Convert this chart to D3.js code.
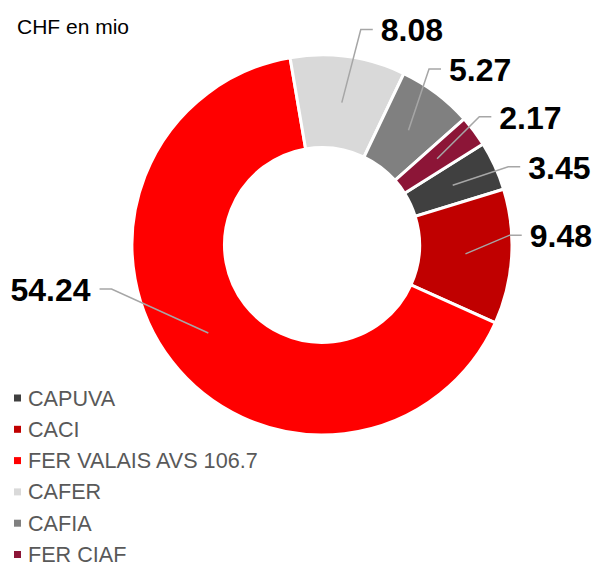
<!DOCTYPE html>
<html>
<head>
<meta charset="utf-8">
<script src="https://cdn.jsdelivr.net/npm/d3@7"></script>
<style>
  body { margin: 0; background: #fff; }
  svg { display: block; font-family: "Liberation Sans", Arial, sans-serif; }
</style>
</head>
<body>
<script>
// donut: CHF en mio per fund

var categories = ['CAPUVA', 'CACI', 'FER VALAIS AVS 106.7', 'CAFER', 'CAFIA', 'FER CIAF'];
var values = [3.45, 9.48, 54.24, 8.08, 5.27, 2.17];
var colors = ['#404040', '#C00000', '#FF0000', '#D9D9D9', '#808080', '#8C1537'];

// where each leader line bends (angle in degrees, radius), like the manual labels
var labelBend = [[67.2, 202], [87, 188], [258.2, 215], [10.2, 219], [31.3, 206], [50.8, 203]];

var width = 595, height = 562;
var cx = 322, cy = 245;
var outer = 190, inner = 97.5;
var rad = Math.PI / 180;

var svg = d3.select('body').append('svg')
	.attr('width', width)
	.attr('height', height);

svg.append('text')
	.attr('x', 17)
	.attr('y', 34)
	.attr('font-size', 21)
	.attr('fill', '#000')
	.text('CHF en mio');

var start = 57.9 * rad;

var pie = d3.pie()
	.sort(null)
	.startAngle(start)
	.endAngle(start + 2 * Math.PI);

var arc = d3.arc()
	.innerRadius(inner)
	.outerRadius(outer);

var mid = d3.arc()
	.innerRadius((inner + outer) / 2)
	.outerRadius((inner + outer) / 2);

var slices = pie(values);

var g = svg.append('g')
	.attr('transform', 'translate(' + cx + ',' + cy + ')');

g.selectAll('path.slice')
	.data(slices)
	.enter().append('path')
	.attr('class', 'slice')
	.attr('d', arc)
	.attr('fill', function(d, i){ return colors[i]; })
	.attr('stroke', '#fff')
	.attr('stroke-width', 3)
	.attr('stroke-linejoin', 'miter');

// leader lines and value labels
slices.forEach(function(d, i){
	var c = mid.centroid(d);
	var a = labelBend[i][0] * rad, r = labelBend[i][1];
	var bx = Math.sin(a) * r, by = -Math.cos(a) * r;
	var right = bx > 0;
	var ex = right ? bx + 12 : bx - 12;

	g.append('polyline')
		.attr('points', [c, [bx, by], [ex, by]].map(function(p){ return p.join(','); }).join(' '))
		.attr('fill', 'none')
		.attr('stroke', '#A6A6A6')
		.attr('stroke-width', 1.5);

	g.append('text')
		.attr('x', right ? ex + 8 : ex - 9)
		.attr('y', by + 12)
		.attr('text-anchor', right ? 'start' : 'end')
		.attr('font-size', 32)
		.attr('font-weight', 'bold')
		.attr('fill', '#000')
		.text(d3.format('.2f')(d.data));
});

// legend
var legend = svg.append('g').attr('transform', 'translate(14,398)');
var row = legend.selectAll('g')
	.data(categories)
	.enter().append('g')
	.attr('transform', function(d, i){ return 'translate(0,' + (i * 31.3) + ')'; });

row.append('rect')
	.attr('x', 0)
	.attr('y', -3.5)
	.attr('width', 7)
	.attr('height', 7)
	.attr('fill', function(d, i){ return colors[i]; });

row.append('text')
	.attr('x', 14)
	.attr('y', 7.5)
	.attr('font-size', 21.6)
	.attr('fill', '#595959')
	.text(function(d){ return d; });
</script>
</body>
</html>
